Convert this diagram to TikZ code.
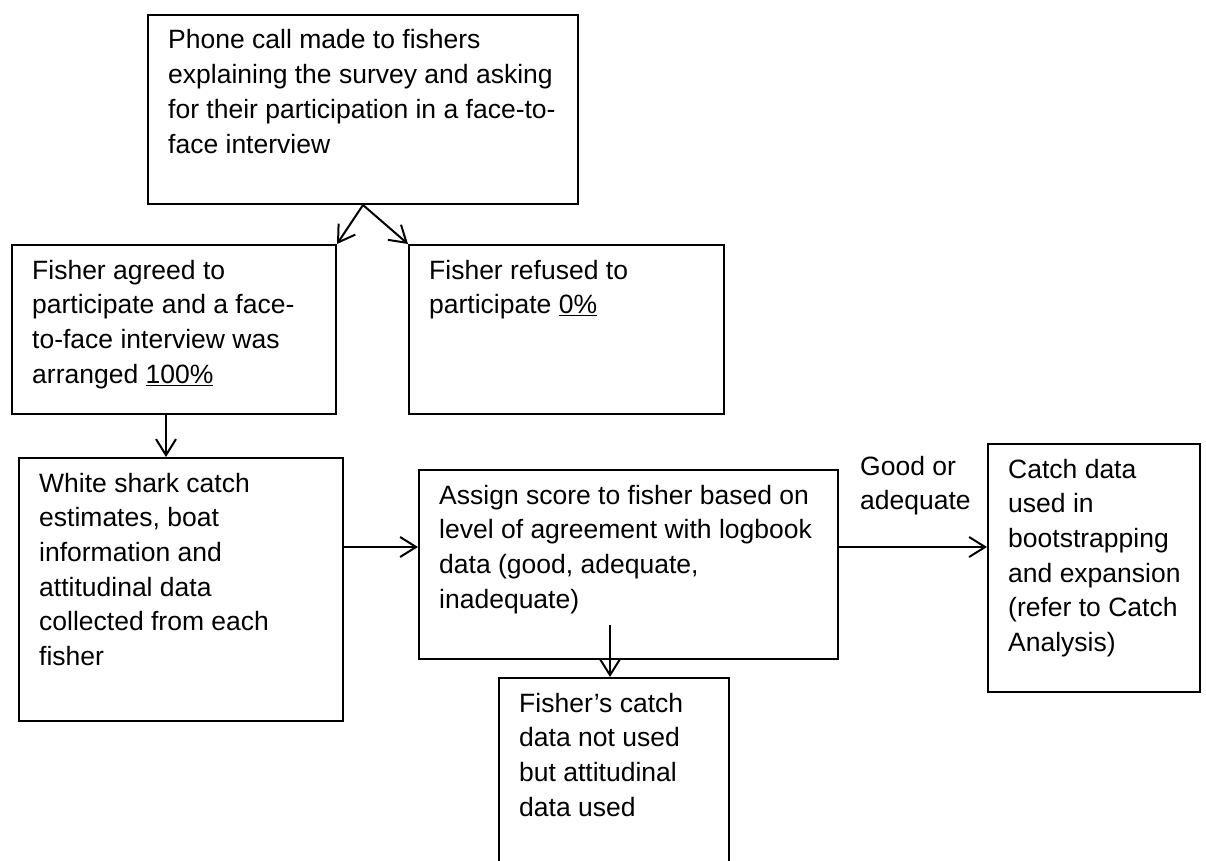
\documentclass[tikz,border=0pt]{standalone}
\usepackage{fontspec}
\setmainfont{Liberation Sans}
\usetikzlibrary{arrows.meta,calc}
\tikzset{
  box/.style={draw, line width=2pt, inner sep=0pt, anchor=north west},
  txt/.style={anchor=base west, inner sep=0pt, font=\fontsize{26.5}{34.7}\selectfont},
  arr/.style={line width=2pt, -{Straight Barb[length=16pt,width=20pt,line width=2pt]}},
}
\newcommand{\mybox}[6]{%
  \node[box, minimum width=#4pt-#2pt, minimum height=#5pt-#3pt] (#1) at (#2,#3) {};
  \node[txt] (#1-t) at ($(#1.north west)+(21pt,-35pt)$) {\parbox[t]{600pt}{#6}};
}
\begin{document}
\begin{tikzpicture}[x=1pt,y=-1pt]
\clip (0,0) rectangle (1206,861);
\useasboundingbox (0,0) rectangle (1206,861);
\mybox{top}{147}{14}{577}{203}{Phone call made to fishers\\explaining the survey and asking\\for their participation in a face-to-\\face interview}
\mybox{agree}{11}{244}{335}{413}{Fisher agreed to\\participate and a face-\\to-face interview was\\arranged \underline{100\%}}
\mybox{refuse}{408}{244}{723}{413}{Fisher refused to\\participate \underline{0\%}}
\mybox{shark}{18}{457}{342}{720}{White shark catch\\estimates, boat\\information and\\attitudinal data\\collected from each\\fisher}
\mybox{assign}{418}{469}{837}{658}{Assign score to fisher based on\\level of agreement with logbook\\data (good, adequate,\\inadequate)}
\mybox{catch}{987}{443}{1199}{691}{Catch data\\used in\\bootstrapping\\and expansion\\(refer to Catch\\Analysis)}
\mybox{fisher}{498}{677}{728}{900}{Fisher’s catch\\data not used\\but attitudinal\\data used}
\node[txt] (lab) at (860,475) {\parbox[t]{200pt}{Good or\\adequate}};
\draw[arr] (top.south) -- (agree.north east);
\draw[arr] (top.south) -- (refuse.north west);
\draw[arr] ([xshift=155pt]agree.south west) -- ([xshift=148pt]shark.north west);
\draw[arr] ([yshift=-90pt]shark.north east) -- ([yshift=-78pt]assign.north west);
\draw[arr] ([yshift=-78pt]assign.north east) -- ([yshift=-104pt]catch.north west);
\draw[arr] ([xshift=192pt,yshift=35pt]assign.south west) -- ([xshift=112pt]fisher.north west);
\end{tikzpicture}
\end{document}
